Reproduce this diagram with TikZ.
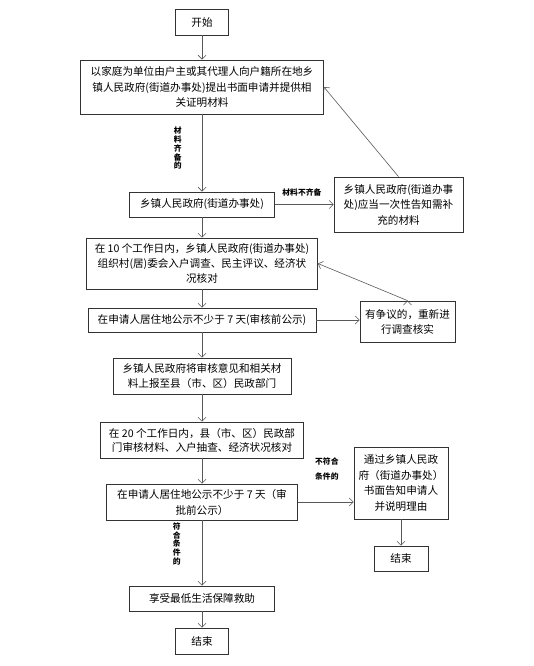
\documentclass[tikz,border=0pt]{standalone}
\usepackage{fontspec}
\setmainfont{Noto Sans CJK SC}
\usetikzlibrary{arrows.meta,positioning,calc}

\tikzset{
  box/.style={draw=black!80, line width=0.8pt, align=center, inner sep=0pt,
    font=\fontsize{10.6}{15.5}\selectfont},
  note/.style={font=\fontsize{7.8}{8.8}\selectfont\bfseries, align=center, inner sep=0pt},
  flow/.style={draw=black!65, line width=0.6pt, -{Straight Barb[length=4pt,width=8pt]}}
}

\begin{document}
\begin{tikzpicture}[x=1pt,y=-1pt]
  \fill[white] (0,0) rectangle (534,666);
  \useasboundingbox (0,0) rectangle (534,666);
  % main column
  \node[box, minimum width=53pt, minimum height=26pt] (start) at (202,22) {开始};
  \node[box, minimum width=243pt, minimum height=54pt] (apply) at (202,87)
    {以家庭为单位由户主或其代理人向户籍所在地乡\\镇人民政府(街道办事处)提出书面申请并提供相\\关证明材料};
  \node[box, minimum width=145pt, minimum height=25pt] (town) at (202,204.5) {乡镇人民政府(街道办事处)};
  \node[box, minimum width=231pt, minimum height=51pt, font=\fontsize{10.6}{15}\selectfont] (survey) at (202,263.5)
    {在 10 个工作日内，乡镇人民政府(街道办事处)\\组织村(居)委会入户调查、民主评议、经济状\\况核对};
  \node[box, minimum width=228pt, minimum height=24pt] (pub1) at (202,320) {在申请人居住地公示不少于 7 天(审核前公示)};
  \node[box, minimum width=178pt, minimum height=36pt, font=\fontsize{10.6}{14.5}\selectfont] (report) at (202,376)
    {乡镇人民政府将审核意见和相关材\\料上报至县（市、区）民政部门};
  \node[box, minimum width=203pt, minimum height=36pt, font=\fontsize{10.6}{14}\selectfont] (county) at (202,440)
    {在 20 个工作日内，县（市、区）民政部\\门审核材料、入户抽查、经济状况核对};
  \node[box, minimum width=191pt, minimum height=36pt, font=\fontsize{10.6}{16}\selectfont] (pub2) at (202,502)
    {在申请人居住地公示不少于 7 天（审\\批前公示）};
  \node[box, minimum width=145pt, minimum height=25pt] (aid) at (202,598.5) {享受最低生活保障救助};
  \node[box, minimum width=53pt, minimum height=26pt] (end1) at (202,641) {结束};
  % side boxes
  \node[box, minimum width=129pt, minimum height=55pt] (notice) at (398.5,204.5)
    {乡镇人民政府(街道办事\\处)应当一次性告知需补\\充的材料};
  \node[box, minimum width=95pt, minimum height=41pt, font=\fontsize{10.6}{15}\selectfont] (dispute) at (407.5,321.5)
    {有争议的，重新进\\行调查核实};
  \node[box, minimum width=94pt, minimum height=72pt] (reject) at (401,483)
    {通过乡镇人民政\\府（街道办事处）\\书面告知申请人\\并说明理由};
  \node[box, minimum width=54pt, minimum height=25pt] (end2) at (401,558.5) {结束};

  \path[flow]
    (start) edge (apply)
    (apply) edge node[note, pos=0.44, left=20pt] {材\\料\\齐\\备\\的} (town)
    (town) edge node[note, pos=0.46, above=8pt] {材料不齐备} (notice)
    (notice.north) edge (apply.east)
    (town) edge (survey)
    (survey) edge (pub1)
    (pub1.east) edge (pub1.east -| dispute.west)
    (dispute.north) edge (survey.east)
    (pub1) edge (report)
    (report) edge (county)
    (county) edge (pub2)
    (reject) edge (end2)
    (pub2) edge node[note, pos=0.36, left=21pt] {符\\合\\条\\件\\的} (aid)
    (aid) edge (end1);
  \draw[flow] (pub2.east) -- node[note, pos=0.52, above=21pt, font=\fontsize{7.8}{15}\selectfont\bfseries] {不符合\\条件的} (pub2.east -| reject.west);
\end{tikzpicture}
\end{document}
